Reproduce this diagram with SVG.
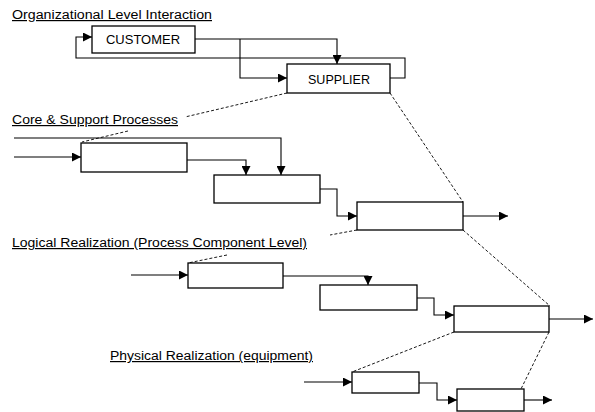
<svg xmlns="http://www.w3.org/2000/svg" width="595" height="412" viewBox="0 0 595 412">
  <style>
    .box { fill: #fff; stroke: #000; stroke-width: 1.3; }
    .flow { fill: none; stroke: #000; stroke-width: 1.1; marker-end: url(#arr); }
    .map { fill: none; stroke: #000; stroke-width: 0.9; stroke-dasharray: 3 2; }
    .title { font-family: "Liberation Sans", Arial, sans-serif; font-size: 12px; text-decoration: underline; fill: #000; }
    .label { font-family: "Liberation Sans", Arial, sans-serif; font-size: 13px; fill: #000; }
  </style>
  <defs>
    <marker id="arr" viewBox="0 0 10 10" refX="10" refY="5" markerWidth="10" markerHeight="9" orient="auto" markerUnits="userSpaceOnUse">
      <path d="M0,0 L10,5 L0,10 z" fill="#000"/>
    </marker>
  </defs>

  <rect width="595" height="412" fill="#fff"/>

  <!-- level titles -->
  <g id="titles">
    <text class="title" x="12" y="19" textLength="200" lengthAdjust="spacingAndGlyphs">Organizational Level Interaction</text>
    <text class="title" x="12" y="124" textLength="166" lengthAdjust="spacingAndGlyphs">Core &amp; Support Processes</text>
    <text class="title" x="12" y="247" textLength="295" lengthAdjust="spacingAndGlyphs">Logical Realization (Process Component Level)</text>
    <text class="title" x="110" y="360" textLength="203" lengthAdjust="spacingAndGlyphs">Physical Realization (equipment)</text>
  </g>

  <!-- dashed mapping lines between levels -->
  <g id="mapping">
    <path class="map" d="M287,93 L185,117 M128,131 L82,142"/>
    <path class="map" d="M390,93 L463,202"/>
    <path class="map" d="M357,230 L330,235 M227,255 L188,263"/>
    <path class="map" d="M463,230 L550,306"/>
    <path class="map" d="M454,332 L352,372"/>
    <path class="map" d="M549,332 L521,389"/>
  </g>

  <!-- connectors -->
  <g id="connectors">
    <!-- organizational level -->
    <path class="flow" d="M390,78 H405 V58 H76 V37 H92"/>
    <path class="flow" d="M195,39 H337 V64"/>
    <path class="flow" d="M240,39 V78 H287"/>
    <!-- core & support -->
    <path class="flow" d="M14,138 H281 V175"/>
    <path class="flow" d="M14,157 H81"/>
    <path class="flow" d="M187,160 H246 V175"/>
    <path class="flow" d="M320,189 H337 V216 H357"/>
    <path class="flow" d="M463,216 H508"/>
    <!-- logical realization -->
    <path class="flow" d="M131,275 H188"/>
    <path class="flow" d="M283,276 H368 V285"/>
    <path class="flow" d="M417,298 H434 V315 H454"/>
    <path class="flow" d="M549,319 H593"/>
    <!-- physical realization -->
    <path class="flow" d="M304,382 H352"/>
    <path class="flow" d="M419,383 H437 V400 H457"/>
    <path class="flow" d="M524,400 H552"/>
  </g>

  <!-- organizational nodes -->
  <g id="customer">
    <rect class="box" x="92" y="26" width="103" height="27"/>
    <text class="label" x="106" y="44" textLength="74" lengthAdjust="spacingAndGlyphs">CUSTOMER</text>
  </g>
  <g id="supplier">
    <rect class="box" x="287" y="64" width="103" height="29"/>
    <text class="label" x="308" y="84" textLength="62" lengthAdjust="spacingAndGlyphs">SUPPLIER</text>
  </g>

  <!-- core & support process nodes -->
  <g id="core1"><rect class="box" x="81" y="143" width="106" height="29"/></g>
  <g id="core2"><rect class="box" x="214" y="175" width="106" height="28"/></g>
  <g id="core3"><rect class="box" x="357" y="202" width="106" height="28"/></g>

  <!-- logical realization nodes -->
  <g id="logical1"><rect class="box" x="188" y="263" width="95" height="25"/></g>
  <g id="logical2"><rect class="box" x="320" y="285" width="97" height="25"/></g>
  <g id="logical3"><rect class="box" x="454" y="306" width="95" height="26"/></g>

  <!-- physical realization nodes -->
  <g id="physical1"><rect class="box" x="352" y="372" width="67" height="21"/></g>
  <g id="physical2"><rect class="box" x="457" y="389" width="67" height="22"/></g>
</svg>
